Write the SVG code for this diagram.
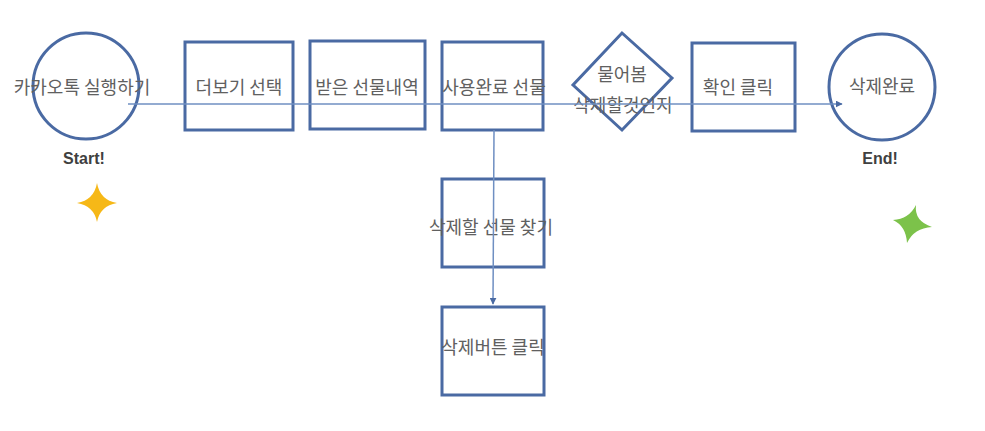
<svg xmlns="http://www.w3.org/2000/svg" width="985" height="431" viewBox="0 0 985 431">
<defs>
<style>
.shape{fill:none;stroke:#4a6aa3;stroke-width:3}
.conn{fill:none;stroke:#6f8fc2;stroke-width:1.5}
.lbl{font-family:"Noto Sans CJK KR","Noto Sans",sans-serif;font-size:18px;fill:#606060;text-anchor:middle}
.tag{font-family:"Liberation Sans",Arial,sans-serif;font-size:16px;font-weight:bold;fill:#404040;text-anchor:middle}
</style>
<marker id="arr" viewBox="0 0 10 10" refX="9" refY="5" markerWidth="7" markerHeight="7" markerUnits="userSpaceOnUse" orient="auto">
<path d="M0,0 L10,5 L0,10 z" fill="#4a6aa3"/>
</marker>
</defs>
<rect width="985" height="431" fill="#ffffff"/>
<g id="start">
<circle class="shape" cx="86" cy="86" r="53"/>
<text class="lbl" x="82" y="94">카카오톡 실행하기</text>
<text class="tag" x="84" y="164">Start!</text>
<path d="M97,183 Q100,200 117,203 Q100,206 97,222 Q94,206 77,203 Q94,200 97,183 Z" fill="#f6b817"/>
</g>
<g id="more">
<rect class="shape" x="185" y="42" width="108" height="88"/>
<text class="lbl" x="239" y="94">더보기 선택</text>
</g>
<g id="received">
<rect class="shape" x="310" y="41" width="115" height="88"/>
<text class="lbl" x="367" y="94">받은 선물내역</text>
</g>
<g id="used">
<rect class="shape" x="442" y="42" width="101" height="88"/>
<text class="lbl" x="494" y="94">사용완료 선물</text>
</g>
<g id="ask">
<polygon class="shape" points="622,33 672,78 622,130 573,85"/>
<text class="lbl" x="622" y="81">물어봄</text>
<text class="lbl" x="623" y="112">삭제할것인지</text>
</g>
<g id="confirm">
<rect class="shape" x="692" y="43" width="103" height="88"/>
<text class="lbl" x="738" y="94">확인 클릭</text>
</g>
<g id="end">
<circle class="shape" cx="882" cy="87" r="53"/>
<text class="lbl" x="882" y="93">삭제완료</text>
<text class="tag" x="880" y="164">End!</text>
<path d="M916,205 Q914,221 932,227 Q914,228 907,243 Q906,226 893,220 Q909,219 916,205 Z" fill="#7cc24a"/>
</g>
<g id="find">
<rect class="shape" x="442" y="179" width="102" height="88"/>
<text class="lbl" x="491" y="234">삭제할 선물 찾기</text>
</g>
<g id="delbtn">
<rect class="shape" x="442" y="307" width="102" height="88"/>
<text class="lbl" x="493" y="354">삭제버튼 클릭</text>
</g>
<g id="connectors">
<line class="conn" x1="128" y1="104" x2="842" y2="104" marker-end="url(#arr)"/>
<line class="conn" x1="494" y1="130" x2="493" y2="304" marker-end="url(#arr)"/>
</g>
</svg>
